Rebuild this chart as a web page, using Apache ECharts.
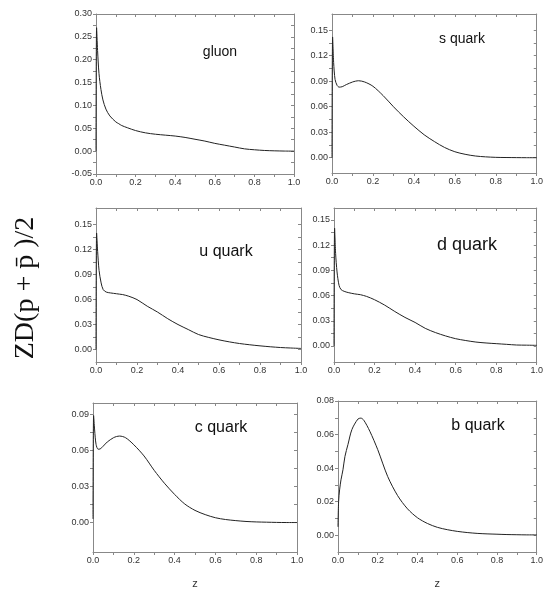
<!DOCTYPE html>
<html>
<head>
<meta charset="utf-8">
<script src="https://cdn.jsdelivr.net/npm/echarts@6/dist/echarts.min.js"></script>
<style>
  html, body { margin: 0; padding: 0; background: #fff; }
</style>
</head>
<body>
<div id="main" style="width:546px;height:590px;"></div>
<script>
// z points (shared by every panel, dense near 0 where the spikes are)
var zGrid = [0, 0.003, 0.008, 0.015, 0.025, 0.035, 0.05, 0.07, 0.1, 0.115, 0.13, 0.16, 0.2, 0.25, 0.3,
             0.35, 0.4, 0.45, 0.5, 0.55, 0.6, 0.65, 0.7, 0.75, 0.8, 0.85, 0.9, 0.95, 1.0];

// zD(p + pbar)/2
var gluonVals = [0, 0.27, 0.22, 0.17, 0.135, 0.112, 0.092, 0.077, 0.064, 0.060, 0.056, 0.051, 0.045, 0.040, 0.037,
                 0.035, 0.033, 0.030, 0.026, 0.022, 0.017, 0.013, 0.009, 0.005, 0.003, 0.0015, 0.0007, 0.0002, 0];
var sVals = [0, 0.142, 0.112, 0.092, 0.085, 0.083, 0.0835, 0.086, 0.089, 0.090, 0.0905, 0.089, 0.084, 0.073, 0.060,
             0.048, 0.037, 0.027, 0.019, 0.012, 0.007, 0.004, 0.002, 0.001, 0.0004, 0.0002, 0.0001, 0, 0];
var uVals = [0, 0.140, 0.118, 0.095, 0.080, 0.072, 0.069, 0.068, 0.067, 0.0665, 0.066, 0.064, 0.060, 0.052, 0.045,
             0.037, 0.030, 0.024, 0.018, 0.0145, 0.0116, 0.0092, 0.0072, 0.0057, 0.0044, 0.0033, 0.0024, 0.0018, 0.0013];
var dVals = [0, 0.140, 0.110, 0.088, 0.072, 0.067, 0.065, 0.0635, 0.062, 0.0615, 0.061, 0.059, 0.055, 0.0486, 0.041,
             0.034, 0.028, 0.021, 0.016, 0.012, 0.0087, 0.0065, 0.0047, 0.0036, 0.0028, 0.002, 0.0012, 0.001, 0.0008];
var cVals = [0.003, 0.089, 0.077, 0.065, 0.061, 0.0612, 0.0635, 0.067, 0.0705, 0.0715, 0.0719, 0.0705, 0.0647, 0.0554, 0.0434,
             0.0327, 0.0234, 0.0154, 0.0101, 0.0066, 0.0040, 0.0025, 0.0016, 0.0009, 0.0005, 0.0003, 0.0001, 0, 0];
var bVals = [0.005, 0.02, 0.027, 0.033, 0.039, 0.047, 0.054, 0.063, 0.0692, 0.0698, 0.0685, 0.062, 0.051, 0.035, 0.0236,
             0.0157, 0.0104, 0.007, 0.0047, 0.0033, 0.0023, 0.0016, 0.0011, 0.0008, 0.0006, 0.0004, 0.0003, 0.0002, 0.0002];

var xTicks = [0, 0.2, 0.4, 0.6, 0.8, 1.0];
var gluonTicks = [-0.05, 0, 0.05, 0.10, 0.15, 0.20, 0.25, 0.30];
var quarkTicks = [0, 0.03, 0.06, 0.09, 0.12, 0.15];
var cTicks = [0, 0.03, 0.06, 0.09];
var bTicks = [0, 0.02, 0.04, 0.06, 0.08];

var panels = [
  { name: 'gluon',   vals: gluonVals, ticks: gluonTicks, min: -0.05,  max: 0.30,  grid: [96, 14, 198, 160],  label: [220, 52, 14] },
  { name: 's quark', vals: sVals,     ticks: quarkTicks, min: -0.018, max: 0.169, grid: [332, 14, 213, 159], label: [462, 39, 14] },
  { name: 'u quark', vals: uVals,     ticks: quarkTicks, min: -0.015, max: 0.170, grid: [96, 208, 205, 154], label: [226, 252, 16] },
  { name: 'd quark', vals: dVals,     ticks: quarkTicks, min: -0.019, max: 0.164, grid: [334, 208, 211, 154], label: [467, 245, 18] },
  { name: 'c quark', vals: cVals,     ticks: cTicks,     min: -0.0245, max: 0.0994, grid: [93, 403, 204, 155], label: [221, 428, 16] },
  { name: 'b quark', vals: bVals,     ticks: bTicks,     min: -0.01,  max: 0.08,  grid: [338, 401, 207, 158], label: [478, 426, 16] }
];

var frameColor = '#888';
var labelStyle = { fontFamily: 'Liberation Sans', fontSize: 9, color: '#333' };

// ticks halfway between the labelled ones
function withMinor(ticks) {
  var out = [];
  for (var i = 0; i < ticks.length; i++) {
    out.push(ticks[i]);
    if (i < ticks.length - 1) out.push((ticks[i] + ticks[i + 1]) / 2);
  }
  return out;
}

var grids = [], xAxes = [], yAxes = [], series = [], texts = [];

panels.forEach(function (p, i) {
  var bottomRow = i >= 4;
  grids.push({ left: p.grid[0], top: p.grid[1], width: p.grid[2], height: p.grid[3] });

  var xBase = {
    type: 'value', gridIndex: i, min: 0, max: 1,
    splitLine: { show: false },
    axisLine: { onZero: false, lineStyle: { color: frameColor, width: 1 } }
  };
  xAxes.push(Object.assign({}, xBase, {
    position: 'bottom',
    axisTick: { customValues: withMinor(xTicks), length: 3, lineStyle: { color: frameColor } },
    axisLabel: Object.assign({ customValues: xTicks, margin: 4, formatter: function (v) { return v.toFixed(1); } }, labelStyle),
    name: bottomRow ? 'z' : '',
    nameLocation: 'middle', nameGap: 26,
    nameTextStyle: { fontFamily: 'Liberation Sans', fontSize: 11, color: '#333' }
  }));
  xAxes.push(Object.assign({}, xBase, {
    position: 'top',
    axisTick: { customValues: withMinor(xTicks), inside: true, length: 3, lineStyle: { color: frameColor } },
    axisLabel: { show: false }
  }));

  var yBase = {
    type: 'value', gridIndex: i, min: p.min, max: p.max,
    splitLine: { show: false },
    axisLine: { onZero: false, lineStyle: { color: frameColor, width: 1 } }
  };
  yAxes.push(Object.assign({}, yBase, {
    position: 'left',
    axisTick: { customValues: withMinor(p.ticks), length: 3, lineStyle: { color: frameColor } },
    axisLabel: Object.assign({ customValues: p.ticks, margin: 4, formatter: function (v) { return v.toFixed(2); } }, labelStyle)
  }));
  yAxes.push(Object.assign({}, yBase, {
    position: 'right',
    axisTick: { customValues: withMinor(p.ticks), inside: true, length: 3, lineStyle: { color: frameColor } },
    axisLabel: { show: false }
  }));

  series.push({
    name: p.name, type: 'line',
    xAxisIndex: 2 * i, yAxisIndex: 2 * i,
    data: zGrid.map(function (z, k) { return [z, p.vals[k]]; }),
    showSymbol: false, smooth: 0.3,
    lineStyle: { color: '#222', width: 1 },
    silent: true
  });

  texts.push({
    type: 'text', x: p.label[0], y: p.label[1],
    style: { text: p.name, fontFamily: 'Liberation Sans', fontSize: p.label[2], fill: '#111',
             align: 'center', verticalAlign: 'middle' }
  });
});

texts.push({
  type: 'text', x: 26, y: 288, rotation: Math.PI / 2,
  style: { text: 'ZD(p + p\u0304 )/2', fontFamily: 'Liberation Serif', fontSize: 28, fill: '#111',
           align: 'center', verticalAlign: 'middle' }
});

var myChart = echarts.init(document.getElementById('main'));
myChart.setOption({
  animation: false,
  grid: grids,
  xAxis: xAxes,
  yAxis: yAxes,
  series: series,
  graphic: texts
});
</script>
</body>
</html>
